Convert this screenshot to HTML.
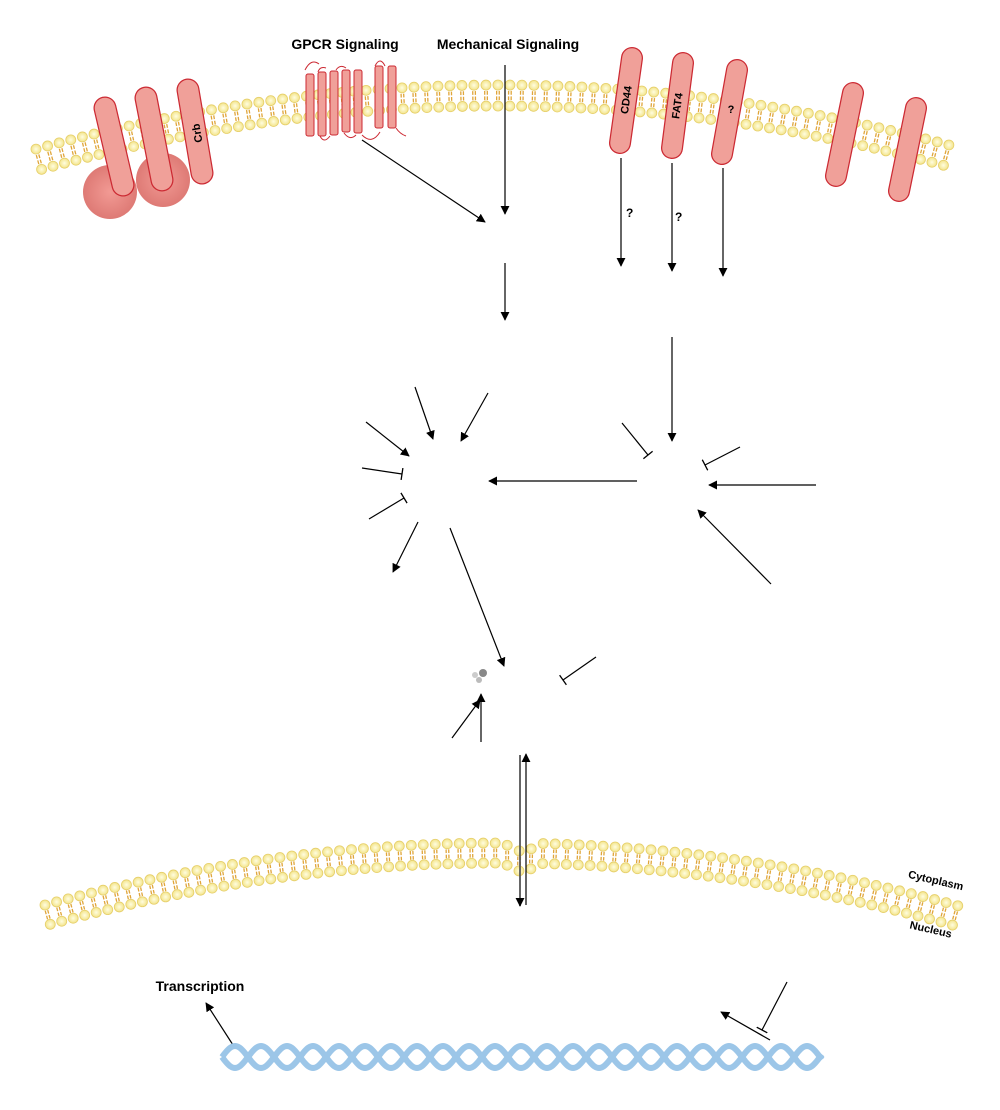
<!DOCTYPE html>
<html><head><meta charset="utf-8"><style>
html,body{margin:0;padding:0;background:#fff}
svg{display:block}
text{font-family:"Liberation Sans",sans-serif;font-weight:bold;fill:#000}
</style></head><body>
<svg id="s" width="1000" height="1110" viewBox="0 0 1000 1110" xmlns="http://www.w3.org/2000/svg">
<defs>
<marker id="a" viewBox="0 0 10 10" refX="9" refY="5" markerWidth="9" markerHeight="9" orient="auto" markerUnits="userSpaceOnUse"><path d="M0,0L10,5L0,10z" fill="#000"/></marker>
<marker id="t" viewBox="0 0 4 12" refX="2" refY="6" markerWidth="4" markerHeight="12" orient="auto" markerUnits="userSpaceOnUse"><path d="M2,0V12" stroke="#000" stroke-width="1.3"/></marker>
<radialGradient id="hg"><stop offset="0" stop-color="#fffde0"/><stop offset="1" stop-color="#f3e48a"/></radialGradient>
<radialGradient id="cg"><stop offset="0" stop-color="#f29a94"/><stop offset="1" stop-color="#de7a75"/></radialGradient>
</defs>
<g id="mem"></g>
<!-- left proteins -->
<circle cx="110" cy="192" r="27" fill="url(#cg)"/>
<circle cx="163" cy="180" r="27" fill="url(#cg)"/>
<g>
<line x1="105" y1="108" x2="123" y2="185" stroke="#cc2a33" stroke-width="23" stroke-linecap="round"/>
<line x1="105" y1="108" x2="123" y2="185" stroke="#f0a099" stroke-width="20.5" stroke-linecap="round"/>
<line x1="146" y1="98" x2="162" y2="180" stroke="#cc2a33" stroke-width="23" stroke-linecap="round"/>
<line x1="146" y1="98" x2="162" y2="180" stroke="#f0a099" stroke-width="20.5" stroke-linecap="round"/>
<line x1="188" y1="90" x2="202" y2="173" stroke="#cc2a33" stroke-width="23" stroke-linecap="round"/>
<line x1="188" y1="90" x2="202" y2="173" stroke="#f0a099" stroke-width="20.5" stroke-linecap="round"/>
</g>
<text font-size="11" transform="translate(198,133) rotate(-100)" text-anchor="middle" dominant-baseline="middle">Crb</text>
<!-- GPCR -->
<g fill="#f0a099" stroke="#cc2a33" stroke-width="1">
<rect x="306" y="74" width="8" height="62" rx="2"/><rect x="318" y="72" width="8" height="64" rx="2"/><rect x="330" y="71" width="8" height="64" rx="2"/><rect x="342" y="70" width="8" height="62" rx="2"/><rect x="354" y="70" width="8" height="63" rx="2"/>
<rect x="375" y="66" width="8" height="62" rx="2"/><rect x="388" y="66" width="8" height="62" rx="2"/>
</g>
<path d="M305,70 q6,-12 14,-6 M320,136 q4,8 10,0 M344,133 q6,8 12,2 M362,135 q10,10 18,-3 M375,66 q5,-10 10,0 M396,128 q4,6 10,8 M336,70 q4,-6 10,-2 M318,72 q2,-6 8,-4" fill="none" stroke="#cc2a33" stroke-width="1"/>
<!-- right proteins -->
<g stroke-linecap="round">
<line x1="632" y1="58" x2="620" y2="143" stroke="#cc2a33" stroke-width="22"/><line x1="632" y1="58" x2="620" y2="143" stroke="#f0a099" stroke-width="19.5"/>
<line x1="683" y1="63" x2="672" y2="148" stroke="#cc2a33" stroke-width="22"/><line x1="683" y1="63" x2="672" y2="148" stroke="#f0a099" stroke-width="19.5"/>
<line x1="737" y1="70" x2="722" y2="154" stroke="#cc2a33" stroke-width="22"/><line x1="737" y1="70" x2="722" y2="154" stroke="#f0a099" stroke-width="19.5"/>
<line x1="853" y1="93" x2="836" y2="176" stroke="#cc2a33" stroke-width="22"/><line x1="853" y1="93" x2="836" y2="176" stroke="#f0a099" stroke-width="19.5"/>
<line x1="916" y1="108" x2="899" y2="191" stroke="#cc2a33" stroke-width="22"/><line x1="916" y1="108" x2="899" y2="191" stroke="#f0a099" stroke-width="19.5"/>
</g>
<text font-size="11" transform="translate(627,100) rotate(-82)" text-anchor="middle" dominant-baseline="middle">CD44</text>
<text font-size="11" transform="translate(678,106) rotate(-82)" text-anchor="middle" dominant-baseline="middle">FAT4</text>
<text font-size="11" x="731" y="110" text-anchor="middle" dominant-baseline="middle">?</text>
<!-- labels -->
<text x="345" y="49" font-size="14" text-anchor="middle">GPCR Signaling</text>
<text x="508" y="49" font-size="14" text-anchor="middle">Mechanical Signaling</text>
<text x="626" y="217" font-size="12">?</text>
<text x="675" y="221" font-size="12">?</text>
<text x="200" y="991" font-size="14" text-anchor="middle">Transcription</text>
<text font-size="11" transform="translate(935,884) rotate(13)" text-anchor="middle">Cytoplasm</text>
<text font-size="11" transform="translate(930,933) rotate(13)" text-anchor="middle">Nucleus</text>
<!-- arrows -->
<g stroke="#000" stroke-width="1.2" fill="none">
<line x1="362" y1="140" x2="485" y2="222" marker-end="url(#a)"/>
<line x1="505" y1="65" x2="505" y2="214" marker-end="url(#a)"/>
<line x1="505" y1="263" x2="505" y2="320" marker-end="url(#a)"/>
<line x1="621" y1="158" x2="621" y2="266" marker-end="url(#a)"/>
<line x1="672" y1="163" x2="672" y2="271" marker-end="url(#a)"/>
<line x1="723" y1="168" x2="723" y2="276" marker-end="url(#a)"/>
<line x1="672" y1="337" x2="672" y2="441" marker-end="url(#a)"/>
<line x1="622" y1="423" x2="648" y2="455" marker-end="url(#t)"/>
<line x1="740" y1="447" x2="705" y2="465" marker-end="url(#t)"/>
<line x1="816" y1="485" x2="709" y2="485" marker-end="url(#a)"/>
<line x1="771" y1="584" x2="698" y2="510" marker-end="url(#a)"/>
<line x1="637" y1="481" x2="489" y2="481" marker-end="url(#a)"/>
<line x1="415" y1="387" x2="433" y2="439" marker-end="url(#a)"/>
<line x1="488" y1="393" x2="461" y2="441" marker-end="url(#a)"/>
<line x1="366" y1="422" x2="409" y2="456" marker-end="url(#a)"/>
<line x1="362" y1="468" x2="402" y2="474" marker-end="url(#t)"/>
<line x1="369" y1="519" x2="404" y2="498" marker-end="url(#t)"/>
<line x1="418" y1="522" x2="393" y2="572" marker-end="url(#a)"/>
<line x1="450" y1="528" x2="504" y2="666" marker-end="url(#a)"/>
<line x1="596" y1="657" x2="563" y2="680" marker-end="url(#t)"/>
<line x1="452" y1="738" x2="480" y2="700" marker-end="url(#a)"/>
<line x1="481" y1="742" x2="481" y2="694" marker-end="url(#a)"/>
<line x1="520" y1="755" x2="520" y2="906" marker-end="url(#a)" stroke="#555" stroke-width="1.8"/>
<line x1="526" y1="905" x2="526" y2="754" marker-end="url(#a)"/>
<line x1="787" y1="982" x2="762" y2="1030" marker-end="url(#t)"/>
<line x1="770" y1="1040" x2="721" y2="1012" marker-end="url(#a)"/>
<line x1="233" y1="1045" x2="206" y2="1003" marker-end="url(#a)"/>
</g>
<circle cx="483" cy="673" r="4" fill="#888"/><circle cx="475" cy="675" r="3" fill="#ccc"/><circle cx="479" cy="680" r="3" fill="#bbb"/>
<g id="dna"></g>
</svg>
<script>
var m=document.getElementById("mem"),h="";
function lip(x,y,ang,hs){var c=Math.cos(ang),s=Math.sin(ang),o="";
 var nx=-s,ny=c;var x2=x+nx*hs,y2=y+ny*hs;
 var t=[[0.28,0.46],[0.54,0.72]];
 for(var d=-1.3;d<=1.3;d+=2.6){for(var k=0;k<2;k++){var a=t[k][0],b=t[k][1];
  o+='<line x1="'+(x+nx*hs*a+c*d)+'" y1="'+(y+ny*hs*a+s*d)+'" x2="'+(x+nx*hs*b+c*d)+'" y2="'+(y+ny*hs*b+s*d)+'" stroke="#e0a53a" stroke-width="1.3"/>';}}
 o+='<circle cx="'+x+'" cy="'+y+'" r="5" fill="url(#hg)" stroke="#e6cf6a" stroke-width="0.8"/>';
 o+='<circle cx="'+x2+'" cy="'+y2+'" r="5" fill="url(#hg)" stroke="#e6cf6a" stroke-width="0.8"/>';return o;}
function memb(x0,x1,f,df,hs){var x=x0;while(x<=x1){var y=f(x),ang=Math.atan(df(x));h+=lip(x,y,ang,hs);x+=12*Math.cos(ang);}}
memb(36,960,function(x){return 85+63*Math.pow((x-500)/460,2)},function(x){return 2*63*(x-500)/(460*460)},21);
memb(45,958,function(x){var v=843+62*Math.pow((x-500)/455,2);var q=(x-522)/18;if(Math.abs(q)<1)v+=8*Math.cos(q*Math.PI/2);return v},function(x){return 2*62*(x-500)/(455*455)},20);
m.innerHTML=h;
var p1="",p2="";for(var x=222;x<=822;x+=1){var y=11*Math.sin((x-222)/52*2*Math.PI);p1+=(x==222?"M":"L")+x+","+(1057+y);p2+=(x==222?"M":"L")+x+","+(1057-y);}
document.getElementById("dna").innerHTML='<path d="'+p1+'" fill="none" stroke="#9cc6e8" stroke-width="6"/><path d="'+p2+'" fill="none" stroke="#9cc6e8" stroke-width="6"/>';
</script>
</body></html>
